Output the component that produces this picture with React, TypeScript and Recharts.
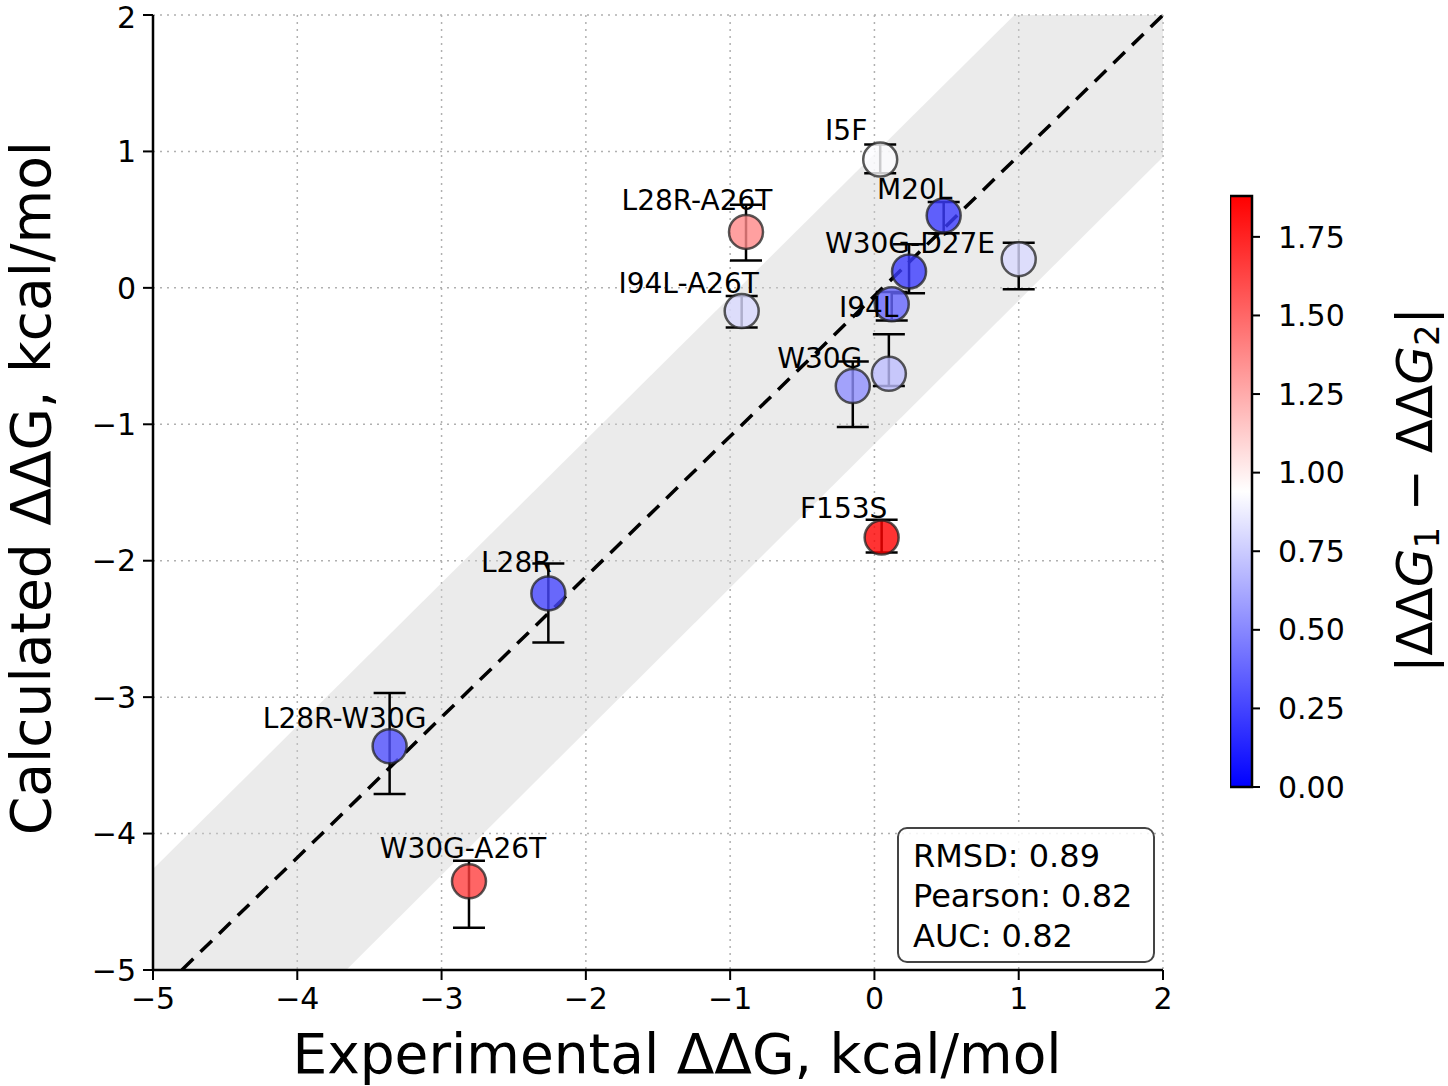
import React from "react";
import {
  Area,
  Bar,
  BarChart,
  CartesianGrid,
  ComposedChart,
  ErrorBar,
  Line,
  Scatter,
  XAxis,
  YAxis,
} from "recharts";

// mutants: experimental vs calculated ddG (kcal/mol), error bars, |ddG1 - ddG2|
const names = [
  "I5F",
  "M20L",
  "L28R-A26T",
  "W30G-D27E",
  "",
  "I94L-A26T",
  "I94L",
  "W30G",
  "",
  "F153S",
  "L28R",
  "L28R-W30G",
  "W30G-A26T",
];
const expDDG = [0.04, 0.48, -0.89, 0.24, 1.0, -0.92, 0.12, -0.15, 0.1, 0.05, -2.26, -3.36, -2.81];
const calcDDG = [0.94, 0.53, 0.41, 0.12, 0.21, -0.17, -0.12, -0.72, -0.63, -1.83, -2.24, -3.36, -4.35];
const errLow = [0.1, 0.13, 0.21, 0.16, 0.22, 0.12, 0.12, 0.3, 0.09, 0.11, 0.36, 0.35, 0.34];
const errHigh = [0.11, 0.1, 0.2, 0.2, 0.12, 0.11, 0.09, 0.18, 0.29, 0.13, 0.22, 0.39, 0.15];
const absDiff = [0.93, 0.22, 1.38, 0.22, 0.8, 0.8, 0.38, 0.53, 0.7, 1.88, 0.26, 0.3, 1.65];

const xTicks = [-5, -4, -3, -2, -1, 0, 1, 2];
const yTicks = [-5, -4, -3, -2, -1, 0, 1, 2];
const cbTicks = [0, 0.25, 0.5, 0.75, 1.0, 1.25, 1.5, 1.75];
const cbMax = 1.88;

// diagonal guide and the shaded band around it
const diagX = [-4.8, 2];
const diagY = [-5, 2];
const bandX = [-5, 2];
const bandLow = [-6.41, 0.96];
const bandHigh = [-4.26, 3.08];

const stats = ["RMSD: 0.89", "Pearson: 0.82", "AUC: 0.82"];

// label placement relative to its point (px): [dx of text centre, dy of baseline]
const labelOffsets: Record<string, [number, number]> = {
  I5F: [-34, -20],
  M20L: [-29, -17],
  "L28R-A26T": [-49, -22],
  "W30G-D27E": [1, -18],
  "I94L-A26T": [-53, -18],
  I94L: [-23, 13],
  W30G: [-33, -18],
  F153S: [-38, -20],
  L28R: [-32, -21],
  "L28R-W30G": [-45, -18],
  "W30G-A26T": [-6, -23],
};

const FONT = "DejaVu Sans, Liberation Sans, sans-serif";

const points = names.map((name, i) => ({
  name,
  x: expDDG[i],
  y: calcDDG[i],
  err: [errLow[i], errHigh[i]],
  d: absDiff[i],
}));
const diag = diagX.map((x, i) => ({ x, y: diagY[i] }));
const band = bandX.map((x, i) => ({ x, band: [bandLow[i], bandHigh[i]] }));
const cbData = [{ name: "cb", v: cbMax }];

// matplotlib "bwr"
function bwr(v: number) {
  const t = Math.max(0, Math.min(1, v / cbMax));
  if (t < 0.5) {
    const s = Math.round((t / 0.5) * 255);
    return `rgb(${s},${s},255)`;
  }
  const s = Math.round((1 - (t - 0.5) / 0.5) * 255);
  return `rgb(255,${s},${s})`;
}

const fmt = (v: number) => (v < 0 ? `\u2212${Math.abs(v)}` : `${v}`);

const Dot = (p: any) => (
  <circle
    cx={p.cx}
    cy={p.cy}
    r={17}
    fill={bwr(p.payload.d)}
    fillOpacity={0.8}
    stroke="#222"
    strokeOpacity={0.75}
    strokeWidth={2.5}
  />
);

const Tag = (p: any) => {
  const off = labelOffsets[p.payload.name];
  if (!off) return <g />;
  return (
    <text x={p.cx + off[0]} y={p.cy + off[1]} textAnchor="middle" fontSize={28} fontFamily={FONT} fill="#000">
      {p.payload.name}
    </text>
  );
};

const tickStyle = { fontSize: 30, fill: "#000", fontFamily: FONT };
const spine = { stroke: "#000", strokeWidth: 2.5 };
const tickLn = { stroke: "#000", strokeWidth: 2 };

export default function App() {
  return (
    <div style={{ position: "absolute", left: 0, top: 0, width: 1448, height: 1086, background: "#fff", fontFamily: FONT }}>
      <ComposedChart width={1448} height={1086} margin={{ top: 15, right: 285, bottom: 56, left: 73 }}>
        <CartesianGrid stroke="#b0b0b0" strokeWidth={1.5} strokeDasharray="2 5" />
        <XAxis
          dataKey="x"
          type="number"
          domain={[-5, 2]}
          ticks={xTicks}
          allowDataOverflow
          height={60}
          tickSize={10}
          tickMargin={8}
          tick={tickStyle}
          tickFormatter={fmt}
          axisLine={spine}
          tickLine={tickLn}
          label={{
            content: () => (
              <text x={677} y={1073} textAnchor="middle" fontSize={55} fontFamily={FONT} fill="#000">
                Experimental ΔΔG, kcal/mol
              </text>
            ),
          }}
        />
        <XAxis xAxisId="top" orientation="top" type="number" domain={[-5, 2]} height={0} tick={false} tickLine={false} axisLine={spine} />
        <YAxis
          dataKey="y"
          type="number"
          domain={[-5, 2]}
          ticks={yTicks}
          allowDataOverflow
          width={80}
          tickSize={10}
          tickMargin={7}
          tick={tickStyle}
          tickFormatter={fmt}
          axisLine={spine}
          tickLine={tickLn}
          label={{
            content: () => (
              <text
                x={50}
                y={488}
                transform="rotate(-90 50 488)"
                textAnchor="middle"
                fontSize={55}
                fontFamily={FONT}
                fill="#000"
              >
                Calculated ΔΔG, kcal/mol
              </text>
            ),
          }}
        />
        <YAxis yAxisId="right" orientation="right" type="number" domain={[-5, 2]} width={0} tick={false} tickLine={false} axisLine={spine} />
        <Area data={band} dataKey="band" type="linear" fill="#cfcfcf" fillOpacity={0.42} stroke="none" isAnimationActive={false} />
        <Line
          data={diag}
          dataKey="y"
          type="linear"
          stroke="#000"
          strokeWidth={3.5}
          strokeDasharray="16 10"
          dot={false}
          activeDot={false}
          isAnimationActive={false}
        />
        <Scatter data={points} shape={Dot} isAnimationActive={false} />
        <Scatter data={points} shape={Tag} isAnimationActive={false}>
          <ErrorBar dataKey="err" direction="y" width={16} stroke="#000" strokeWidth={2.5} />
        </Scatter>
      </ComposedChart>

      <div style={{ position: "absolute", left: 1230, top: 176 }}>
        <BarChart width={218} height={631} data={cbData} margin={{ top: 20, right: 0, bottom: 20, left: 0 }} barCategoryGap={0}>
          <defs>
            <linearGradient id="bwrGrad" x1="0" y1="0" x2="0" y2="1">
              <stop offset="0%" stopColor="rgb(255,0,0)" />
              <stop offset="50%" stopColor="rgb(255,255,255)" />
              <stop offset="100%" stopColor="rgb(0,0,255)" />
            </linearGradient>
          </defs>
          <XAxis dataKey="name" hide />
          <YAxis
            orientation="right"
            type="number"
            domain={[0, cbMax]}
            ticks={cbTicks}
            interval={0}
            width={196}
            tickSize={8}
            tickMargin={18}
            tick={tickStyle}
            tickFormatter={(v: number) => v.toFixed(2)}
            axisLine={false}
            tickLine={tickLn}
            label={{
              content: () => (
                <text x={202} y={314} transform="rotate(-90 202 314)" textAnchor="middle" fontSize={50} fontFamily={FONT} fill="#000">
                  |ΔΔ<tspan fontStyle="italic">G</tspan>
                  <tspan dy={7} fontSize={34}>1</tspan>
                  <tspan dy={-7}> − ΔΔ</tspan>
                  <tspan fontStyle="italic">G</tspan>
                  <tspan dy={7} fontSize={34}>2</tspan>
                  <tspan dy={-7}>|</tspan>
                </text>
              ),
            }}
          />
          <Bar dataKey="v" fill="url(#bwrGrad)" stroke="#000" strokeWidth={2.5} isAnimationActive={false} />
        </BarChart>
      </div>

      <div
        style={{
          position: "absolute",
          left: 897,
          top: 827,
          width: 258,
          height: 136,
          boxSizing: "border-box",
          border: "2px solid #444",
          borderRadius: 10,
          background: "rgba(255,255,255,0.85)",
          padding: "7px 0 0 14px",
          fontSize: 32,
          lineHeight: "40px",
          color: "#000",
        }}
      >
        {stats.map((s) => (
          <div key={s}>{s}</div>
        ))}
      </div>
    </div>
  );
}
